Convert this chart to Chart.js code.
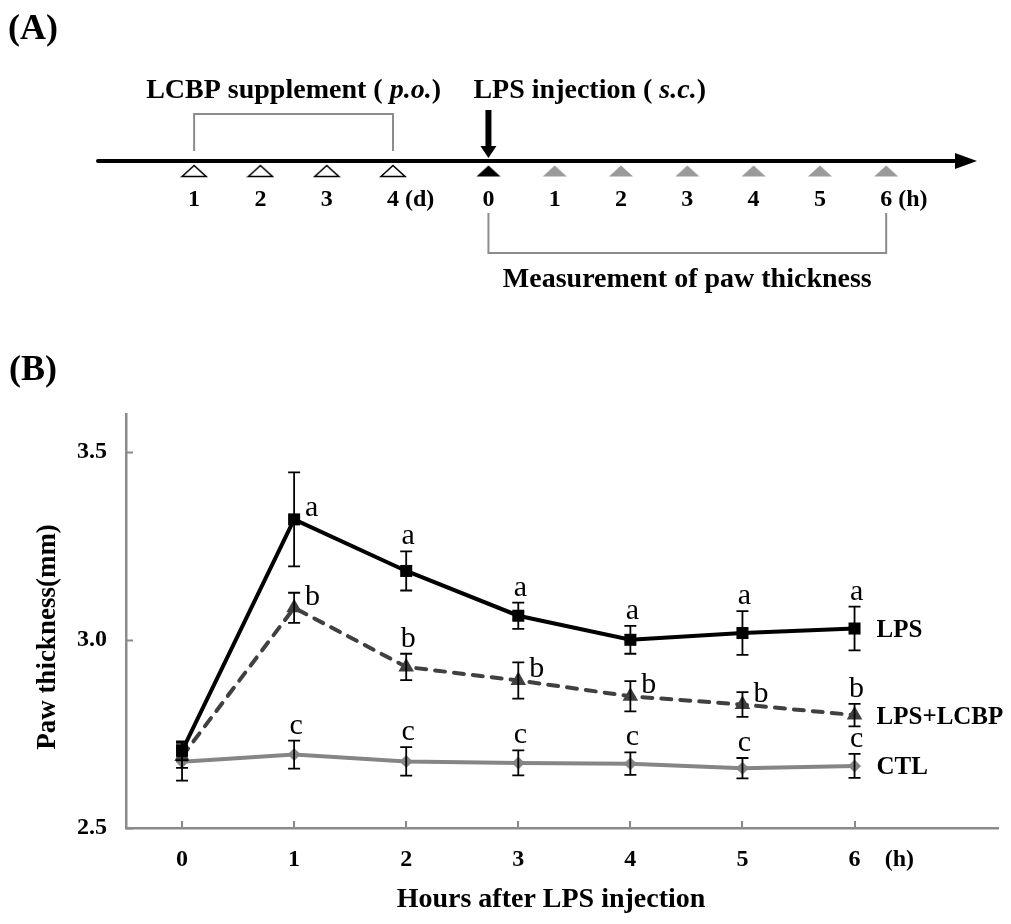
<!DOCTYPE html>
<html><head><meta charset="utf-8">
<script src="https://cdn.jsdelivr.net/npm/chart.js@4"></script>
<style>
html,body{margin:0;padding:0;background:#fff;}
#wrap{position:relative;width:1011px;height:924px;overflow:hidden;}
#wrap canvas{position:absolute;left:0;top:0;}
</style></head><body>
<div id="wrap">
<canvas id="ca" width="1011" height="300"></canvas>
<canvas id="cb" width="1011" height="924"></canvas>
</div>
<script>
// ---------- DATA ----------
// Panel A: timeline
const dayTicks = [1, 2, 3, 4];
const hourTicks = [0, 1, 2, 3, 4, 5, 6];
const dayUnit = '(d)';
const hourUnit = '(h)';
const supplementLabel = ['LCBP supplement ( ', 'p.o.', ')'];
const injectionLabel = ['LPS injection ( ', 's.c.', ')'];
const measurementLabel = 'Measurement of paw thickness';

// Panel B: paw thickness (mm) vs hours after LPS injection
const hours = [0, 1, 2, 3, 4, 5, 6];
const seriesNames = ['LPS', 'LPS+LCBP', 'CTL'];
const lpsMean  = [2.705, 3.320, 3.183, 3.064, 3.000, 3.018, 3.030];
const lpsErr   = [0.025, 0.125, 0.052, 0.035, 0.037, 0.058, 0.058];
const lcbpMean = [2.690, 3.085, 2.928, 2.892, 2.850, 2.828, 2.800];
const lcbpErr  = [0.030, 0.040, 0.035, 0.048, 0.040, 0.033, 0.030];
const ctlMean  = [2.676, 2.695, 2.677, 2.673, 2.671, 2.659, 2.665];
const ctlErr   = [0.050, 0.037, 0.038, 0.033, 0.030, 0.027, 0.032];
const lpsLetters  = ['', 'a', 'a', 'a', 'a', 'a', 'a'];
const lcbpLetters = ['', 'b', 'b', 'b', 'b', 'b', 'b'];
const ctlLetters  = ['', 'c', 'c', 'c', 'c', 'c', 'c'];
const yTicks = [2.5, 3.0, 3.5];
const xTitle = 'Hours after LPS injection';
const yTitle = 'Paw thickness(mm)';

// ---------- STYLE / LAYOUT ----------
const SERIF = '"Liberation Serif", "Times New Roman", serif';
const AXIS_GRAY = '#8a8a8a';
const hourOffset = 5.44;      // timeline position of hour 0 (days are at 1..4)
const hourUnitPos = 6.4;      // x position of "(h)" on panel B axis

function drawRuns(ctx, runs, x, y, align) {
  let total = 0;
  runs.forEach(r => { ctx.font = r.f; total += ctx.measureText(r.t).width; });
  let cx = align === 'center' ? x - total / 2 : (align === 'right' ? x - total : x);
  ctx.textAlign = 'left';
  runs.forEach(r => { ctx.font = r.f; ctx.fillText(r.t, cx, y); cx += ctx.measureText(r.t).width; });
}

function triImage(fill, stroke) {
  const c = document.createElement('canvas');
  c.width = 28; c.height = 14;
  const g = c.getContext('2d');
  g.beginPath();
  g.moveTo(2, 12.5); g.lineTo(14, 1.5); g.lineTo(26, 12.5); g.closePath();
  g.fillStyle = fill; g.fill();
  if (stroke) { g.lineWidth = 1.6; g.strokeStyle = stroke; g.stroke(); }
  return c;
}

// ---------- PANEL A ----------
const timelinePlugin = {
  id: 'timeline',
  beforeDatasetsDraw(chart) {
    const ctx = chart.ctx, ys = chart.scales.y;
    const lineY = ys.getPixelForValue(0) - 10;
    const x0 = chart.chartArea.left, x1 = chart.chartArea.right;
    ctx.save();
    ctx.strokeStyle = '#000'; ctx.lineWidth = 4; ctx.lineCap = 'round';
    ctx.beginPath(); ctx.moveTo(x0, lineY); ctx.lineTo(x1 - 18, lineY); ctx.stroke();
    ctx.fillStyle = '#000';
    ctx.beginPath(); ctx.moveTo(x1 - 22, lineY - 8); ctx.lineTo(x1, lineY); ctx.lineTo(x1 - 22, lineY + 8); ctx.closePath(); ctx.fill();
    ctx.restore();
  },
  afterDatasetsDraw(chart) {
    const ctx = chart.ctx, xs = chart.scales.x, ys = chart.scales.y;
    const lineY = ys.getPixelForValue(0) - 10;
    const dx1 = xs.getPixelForValue(dayTicks[0]);
    const dx4 = xs.getPixelForValue(dayTicks[dayTicks.length - 1]);
    const hx0 = xs.getPixelForValue(hourOffset + hourTicks[0]);
    const hx6 = xs.getPixelForValue(hourOffset + hourTicks[hourTicks.length - 1]);
    ctx.save();
    // brackets
    ctx.strokeStyle = '#8c8c8c'; ctx.lineWidth = 2;
    ctx.beginPath();
    ctx.moveTo(dx1, lineY - 10); ctx.lineTo(dx1, lineY - 47); ctx.lineTo(dx4, lineY - 47); ctx.lineTo(dx4, lineY - 10);
    ctx.stroke();
    ctx.beginPath();
    ctx.moveTo(hx0, lineY + 52); ctx.lineTo(hx0, lineY + 92); ctx.lineTo(hx6, lineY + 92); ctx.lineTo(hx6, lineY + 52);
    ctx.stroke();
    // down arrow at LPS injection
    ctx.fillStyle = '#000';
    ctx.fillRect(hx0 - 3, lineY - 51, 6, 38);
    ctx.beginPath(); ctx.moveTo(hx0 - 8, lineY - 15); ctx.lineTo(hx0, lineY - 3); ctx.lineTo(hx0 + 8, lineY - 15); ctx.closePath(); ctx.fill();
    // labels
    const B = 'bold 28px ' + SERIF, BI = 'italic bold 28px ' + SERIF;
    ctx.textBaseline = 'alphabetic';
    drawRuns(ctx, [{t: supplementLabel[0], f: B}, {t: supplementLabel[1], f: BI}, {t: supplementLabel[2], f: B}], (dx1 + dx4) / 2, lineY - 63, 'center');
    drawRuns(ctx, [{t: injectionLabel[0], f: B}, {t: injectionLabel[1], f: BI}, {t: injectionLabel[2], f: B}], hx0 - 15, lineY - 63, 'left');
    drawRuns(ctx, [{t: measurementLabel, f: B}], (hx0 + hx6) / 2, lineY + 126, 'center');
    // tick numbers
    const D = 'bold 24px ' + SERIF;
    ctx.font = D; ctx.textAlign = 'center';
    dayTicks.forEach(d => ctx.fillText(String(d), xs.getPixelForValue(d), lineY + 45));
    hourTicks.forEach(h => ctx.fillText(String(h), xs.getPixelForValue(hourOffset + h), lineY + 45));
    ctx.textAlign = 'left';
    ctx.fillText(dayUnit, dx4 + 12, lineY + 45);
    ctx.fillText(hourUnit, hx6 + 12, lineY + 45);
    // panel letter
    ctx.font = 'bold 36px ' + SERIF;
    ctx.fillText('(A)', 8, 39);
    ctx.restore();
  }
};

new Chart(document.getElementById('ca'), {
  type: 'scatter',
  data: {
    datasets: [
      {data: dayTicks.map(d => ({x: d, y: 0})), pointStyle: triImage('#fff', '#000')},
      {data: [{x: hourOffset + hourTicks[0], y: 0}], pointStyle: triImage('#000', null)},
      {data: hourTicks.slice(1).map(h => ({x: hourOffset + h, y: 0})), pointStyle: triImage('#9a9a9a', null)}
    ]
  },
  options: {
    responsive: false, animation: false, devicePixelRatio: 1,
    layout: {padding: {left: 98, right: 34, top: 100, bottom: 58}},
    plugins: {legend: {display: false}, tooltip: {enabled: false}},
    scales: {
      x: {type: 'linear', min: -0.45, max: 12.81, display: false},
      y: {type: 'linear', min: -1, max: 1, display: false}
    }
  },
  plugins: [timelinePlugin]
});

// ---------- PANEL B ----------
const means = [lpsMean, lcbpMean, ctlMean];
const errs = [lpsErr, lcbpErr, ctlErr];
const letters = [lpsLetters, lcbpLetters, ctlLetters];
const letterPlace = [
  ['', 'right', 'above', 'above', 'above', 'above', 'above'],
  ['', 'right', 'above', 'right', 'right', 'right', 'above'],
  ['', 'above', 'above', 'above', 'above', 'above', 'above']
];

const annotPlugin = {
  id: 'annot',
  afterDraw(chart) {
    const ctx = chart.ctx, xs = chart.scales.x, ys = chart.scales.y, ca = chart.chartArea;
    ctx.save();
    // inner tick marks
    ctx.strokeStyle = AXIS_GRAY; ctx.lineWidth = 2;
    yTicks.forEach(v => { const y = Math.round(ys.getPixelForValue(v)) + 0.5; ctx.beginPath(); ctx.moveTo(ca.left, y); ctx.lineTo(ca.left + 7, y); ctx.stroke(); });
    hours.forEach(h => { const x = Math.round(xs.getPixelForValue(h)); ctx.beginPath(); ctx.moveTo(x, ca.bottom); ctx.lineTo(x, ca.bottom - 7); ctx.stroke(); });
    // error bars
    ctx.strokeStyle = '#000'; ctx.lineWidth = 1.8;
    means.forEach((m, i) => {
      m.forEach((v, j) => {
        const x = xs.getPixelForValue(hours[j]);
        const yt = ys.getPixelForValue(v + errs[i][j]);
        const yb = ys.getPixelForValue(v - errs[i][j]);
        ctx.beginPath();
        ctx.moveTo(x, yt); ctx.lineTo(x, yb);
        ctx.moveTo(x - 6, yt); ctx.lineTo(x + 6, yt);
        ctx.moveTo(x - 6, yb); ctx.lineTo(x + 6, yb);
        ctx.stroke();
      });
    });
    // significance letters
    ctx.fillStyle = '#000'; ctx.font = '30px ' + SERIF; ctx.textBaseline = 'alphabetic';
    letters.forEach((ls, i) => {
      ls.forEach((l, j) => {
        if (!l) return;
        const x = xs.getPixelForValue(hours[j]);
        if (letterPlace[i][j] === 'above') {
          ctx.textAlign = 'center';
          ctx.fillText(l, x + 2, ys.getPixelForValue(means[i][j] + errs[i][j]) - 7);
        } else {
          ctx.textAlign = 'left';
          ctx.fillText(l, x + 11, ys.getPixelForValue(means[i][j]) - 3);
        }
      });
    });
    // series labels at the last point
    ctx.font = 'bold 25px ' + SERIF; ctx.textAlign = 'left'; ctx.textBaseline = 'middle';
    seriesNames.forEach((n, i) => {
      const last = hours.length - 1;
      ctx.fillText(n, xs.getPixelForValue(hours[last]) + 22, ys.getPixelForValue(means[i][last]) + 2);
    });
    // axis titles
    ctx.font = 'bold 28px ' + SERIF; ctx.textAlign = 'center'; ctx.textBaseline = 'alphabetic';
    ctx.fillText(xTitle, 551, 907);
    ctx.save();
    ctx.translate(55, 637); ctx.rotate(-Math.PI / 2);
    ctx.font = 'bold 27px ' + SERIF;
    ctx.fillText(yTitle, 0, 0);
    ctx.restore();
    // panel letter
    ctx.font = 'bold 36px ' + SERIF; ctx.textAlign = 'left';
    ctx.fillText('(B)', 9, 380);
    ctx.restore();
  }
};

const tickFont = {family: SERIF, size: 24, weight: 'bold'};
new Chart(document.getElementById('cb'), {
  type: 'line',
  data: {
    datasets: [
      {label: seriesNames[0], data: lpsMean.map((v, i) => ({x: hours[i], y: v})),
       borderColor: '#000', backgroundColor: '#000', borderWidth: 4,
       pointStyle: 'rect', pointRadius: 8.5, pointBorderWidth: 0},
      {label: seriesNames[1], data: lcbpMean.map((v, i) => ({x: hours[i], y: v})),
       borderColor: '#404040', backgroundColor: '#404040', borderWidth: 4, borderDash: [10, 9], borderCapStyle: 'round',
       pointStyle: 'triangle', pointRadius: 9, pointBorderWidth: 0},
      {label: seriesNames[2], data: ctlMean.map((v, i) => ({x: hours[i], y: v})),
       borderColor: '#858585', backgroundColor: '#858585', borderWidth: 4,
       pointStyle: 'rectRot', pointRadius: 6.5, pointBorderWidth: 0}
    ]
  },
  options: {
    responsive: false, animation: false, devicePixelRatio: 1,
    layout: {padding: {left: 0, right: 13, top: 414, bottom: 0}},
    plugins: {legend: {display: false}, tooltip: {enabled: false}},
    elements: {line: {tension: 0}},
    scales: {
      x: {
        type: 'linear', min: -0.5, max: 7.28,
        afterBuildTicks: s => { s.ticks = hours.map(h => ({value: h})).concat([{value: hourUnitPos}]); },
        afterFit: s => { s.height = 96; },
        ticks: {font: tickFont, color: '#000', padding: 17, autoSkip: false, maxRotation: 0,
                callback: v => hours.includes(v) ? String(v) : hourUnit},
        grid: {display: false, drawTicks: false},
        border: {display: true, color: AXIS_GRAY, width: 2.5}
      },
      y: {
        type: 'linear', min: 2.5, max: 3.6,
        afterBuildTicks: s => { s.ticks = yTicks.map(v => ({value: v})); },
        afterFit: s => { s.width = 126; },
        ticks: {font: tickFont, color: '#000', padding: 19, callback: v => v.toFixed(1)},
        grid: {display: false, drawTicks: false},
        border: {display: true, color: AXIS_GRAY, width: 2.5}
      }
    }
  },
  plugins: [annotPlugin]
});
</script>
</body></html>
